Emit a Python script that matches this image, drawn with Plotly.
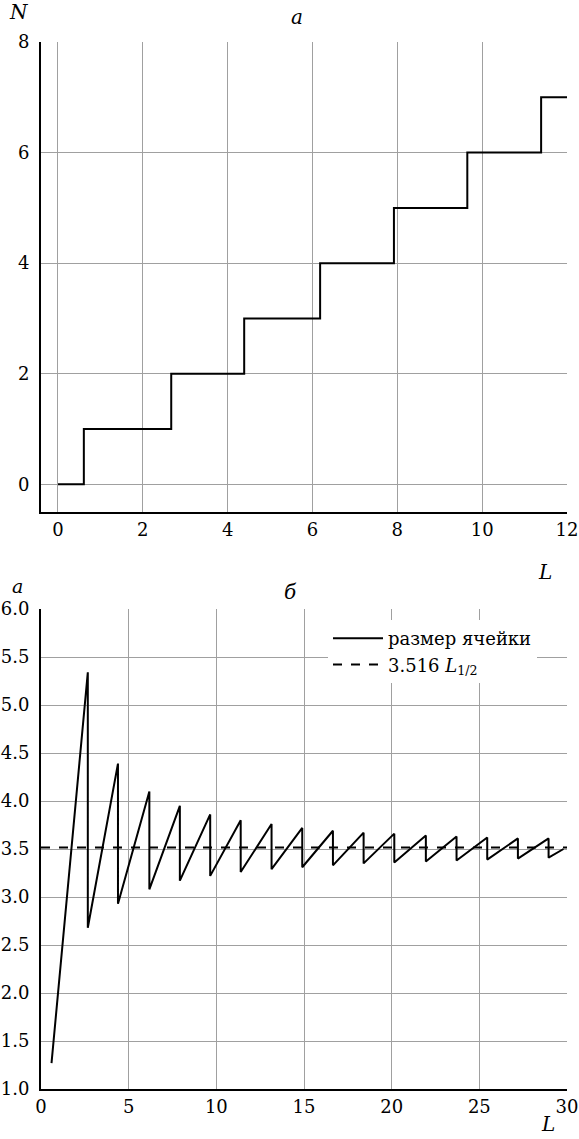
import plotly.graph_objects as go
from plotly.subplots import make_subplots

# ---- panel a: step function N(L) ----
step_L = [0, 0.61, 2.67, 4.39, 6.18, 7.92, 9.65, 11.39, 12.0]
step_N = [0, 1, 2, 3, 4, 5, 6, 7, 7]

# ---- panel b: cell size a(L) sawtooth ----
saw_L = [0.60, 2.67, 2.67, 4.39, 4.39, 6.18, 6.18, 7.92, 7.92, 9.65, 9.65,
         11.39, 11.39, 13.15, 13.15, 14.90, 14.90, 16.65, 16.65, 18.40, 18.40,
         20.15, 20.15, 21.95, 21.95, 23.70, 23.70, 25.45, 25.45, 27.20, 27.20,
         28.95, 28.95, 29.80]
saw_a = [1.27, 5.34, 2.68, 4.39, 2.93, 4.10, 3.08, 3.95, 3.17, 3.86, 3.22,
         3.80, 3.26, 3.76, 3.29, 3.72, 3.31, 3.69, 3.33, 3.67, 3.35,
         3.66, 3.36, 3.64, 3.37, 3.63, 3.38, 3.62, 3.39, 3.61, 3.40,
         3.61, 3.41, 3.50]
ref_L = [0, 30]
ref_a = [3.516, 3.516]

top_xticks = [0, 2, 4, 6, 8, 10, 12]
top_yticks = [0, 2, 4, 6, 8]
bot_xticks = [0, 5, 10, 15, 20, 25, 30]
bot_yticks = [1.0, 1.5, 2.0, 2.5, 3.0, 3.5, 4.0, 4.5, 5.0, 5.5, 6.0]

FONT = "DejaVu Serif"
W, H = 579, 1139
ml, mr, mt, mb = 41, 12, 42, 50
ph = H - mt - mb
pw = W - ml - mr

def py(pix):
    return (H - mb - pix) / ph

def px_x(pix):
    return (pix - ml) / pw

fig = make_subplots(rows=2, cols=1)

fig.add_trace(go.Scatter(x=step_L, y=step_N, mode="lines", line_shape="hv",
                         line=dict(color="black", width=2), showlegend=False),
              row=1, col=1)
fig.add_trace(go.Scatter(x=saw_L, y=saw_a, mode="lines",
                         line=dict(color="black", width=2),
                         name="размер ячейки"), row=2, col=1)
fig.add_trace(go.Scatter(x=ref_L, y=ref_a, mode="lines",
                         line=dict(color="black", width=2, dash="dash"),
                         name="3.516 <i>L</i><sub>1/2</sub>"), row=2, col=1)

grid = "#a0a0a0"
axcommon = dict(showgrid=True, gridcolor=grid, gridwidth=1, zeroline=False,
                showline=True, linecolor="black", linewidth=2, mirror=False,
                ticks="", automargin=False,
                tickfont=dict(family=FONT, size=18, color="black"))

fig.update_layout(
    width=W, height=H, margin=dict(l=ml, r=mr, t=mt, b=mb, autoexpand=False),
    paper_bgcolor="white", plot_bgcolor="white",
    font=dict(family=FONT, size=18, color="black"),
    xaxis=dict(domain=[0, 1], range=[-0.4, 12], tickvals=top_xticks, **axcommon),
    yaxis=dict(domain=[py(512), 1], range=[-0.5, 8], tickvals=top_yticks,
               ticklabelstandoff=6, **axcommon),
    xaxis2=dict(domain=[0, 1], range=[0, 30], tickvals=bot_xticks, **axcommon),
    yaxis2=dict(domain=[0, py(609)], range=[1, 6], tickvals=bot_yticks,
                tickformat=".1f", ticklabelstandoff=6, **axcommon),
    legend=dict(x=px_x(328), y=py(620), xanchor="left", yanchor="top",
                bgcolor="white", borderwidth=0, itemwidth=50,
                font=dict(family=FONT, size=18, color="black"),
                tracegroupgap=0),
)

def ann(text, x, y, size=20):
    fig.add_annotation(text=text, x=x, y=y, xref="paper", yref="paper",
                       xanchor="center", yanchor="middle", showarrow=False,
                       font=dict(family=FONT, size=size, color="black"))

ann("<i>a</i>", px_x(297), py(17))
ann("<i>N</i>", px_x(19), py(12))
ann("<i>L</i>", px_x(545), py(572))
ann("<i>a</i>", px_x(17), py(586), size=19)
ann("<i>б</i>", px_x(290), py(592))
ann("<i>L</i>", px_x(548), py(1124))

fig.write_html("out.html", config={"displayModeBar": False},
               post_script="document.body.style.margin='0';"
                           "document.body.style.overflow='hidden';")
